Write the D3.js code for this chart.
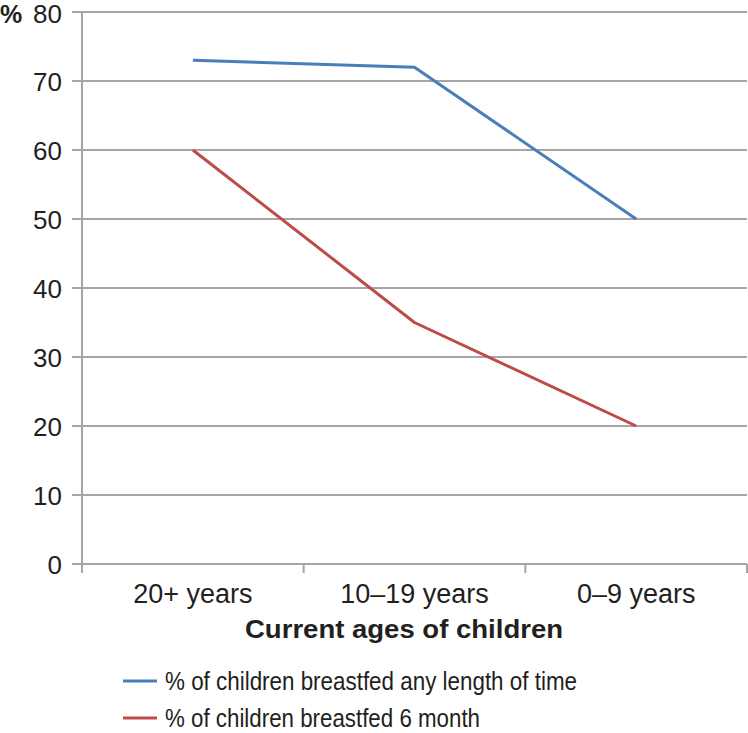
<!DOCTYPE html>
<html><head><meta charset="utf-8">
<script src="https://cdn.jsdelivr.net/npm/d3@7"></script>
<style>body{margin:0;background:#fff}svg{display:block;font-family:"Liberation Sans",Arial,sans-serif}</style>
</head><body><svg id="c" width="748" height="733"></svg>
<script>
const categories = ["20+ years", "10\u201319 years", "0\u20139 years"];
const anyLength = [73, 72, 50];
const sixMonth = [60, 35, 20];
const seriesNames = ["% of children breastfed any length of time", "% of children breastfed 6 month"];
const colors = ["#4a7ebb", "#be4b48"];
const yTicks = [0, 10, 20, 30, 40, 50, 60, 70, 80];

(function () {
const svg = d3.select("#c");
const mLeft = 82, mRight = 747, mTop = 12, mBottom = 564;
const x = d3.scaleBand().domain(categories).range([mLeft, mRight]).padding(0);
const y = d3.scaleLinear().domain([0, 80]).range([mBottom, mTop]);
const grid = "#a6a6a6";
const ink = "#231f20";

svg.append("g").selectAll("line").data(yTicks).join("line")
  .attr("x1", mLeft - 10).attr("x2", mRight).attr("y1", d => y(d)).attr("y2", d => y(d))
  .attr("stroke", grid).attr("stroke-width", 2);
svg.append("line").attr("x1", mLeft).attr("x2", mLeft).attr("y1", mTop).attr("y2", mBottom + 9)
  .attr("stroke", grid).attr("stroke-width", 2);
const bounds = categories.map(c => x(c)).concat([mRight]);
svg.append("g").selectAll("line").data(bounds.slice(1)).join("line")
  .attr("x1", d => d).attr("x2", d => d).attr("y1", mBottom).attr("y2", mBottom + 9)
  .attr("stroke", grid).attr("stroke-width", 2);

svg.append("g").selectAll("text").data(yTicks).join("text")
  .attr("x", 62).attr("y", d => Math.max(y(d) + 9.5, 23)).attr("text-anchor", "end")
  .attr("font-size", 26).attr("fill", ink).text(d => d);
svg.append("text").attr("x", 0).attr("y", 23).attr("font-size", 25)
  .attr("font-weight", "bold").attr("fill", ink).text("%");

svg.append("g").selectAll("text").data(categories).join("text")
  .attr("x", d => x(d) + x.bandwidth() / 2).attr("y", 603).attr("text-anchor", "middle")
  .attr("font-size", 27).attr("fill", ink).text(d => d);
svg.append("text").attr("x", 245).attr("y", 638)
  .attr("font-size", 26).attr("font-weight", "bold").attr("fill", ink)
  .attr("textLength", 318).attr("lengthAdjust", "spacingAndGlyphs")
  .text("Current ages of children");

const line = d3.line().x((d, i) => x(categories[i]) + x.bandwidth() / 2).y(d => y(d));
[anyLength, sixMonth].forEach((s, i) => {
  svg.append("path").attr("d", line(s)).attr("fill", "none")
    .attr("stroke", colors[i]).attr("stroke-width", 3).attr("stroke-linejoin", "round");
});

const ly = [681, 718];
const lw = [412, 315];
seriesNames.forEach((n, i) => {
  svg.append("line").attr("x1", 123).attr("x2", 157).attr("y1", ly[i]).attr("y2", ly[i])
    .attr("stroke", colors[i]).attr("stroke-width", 3);
  svg.append("text").attr("x", 165).attr("y", ly[i] + 9).attr("font-size", 26)
    .attr("textLength", lw[i]).attr("lengthAdjust", "spacingAndGlyphs")
    .attr("fill", ink).text(n);
});
})();
</script></body></html>
